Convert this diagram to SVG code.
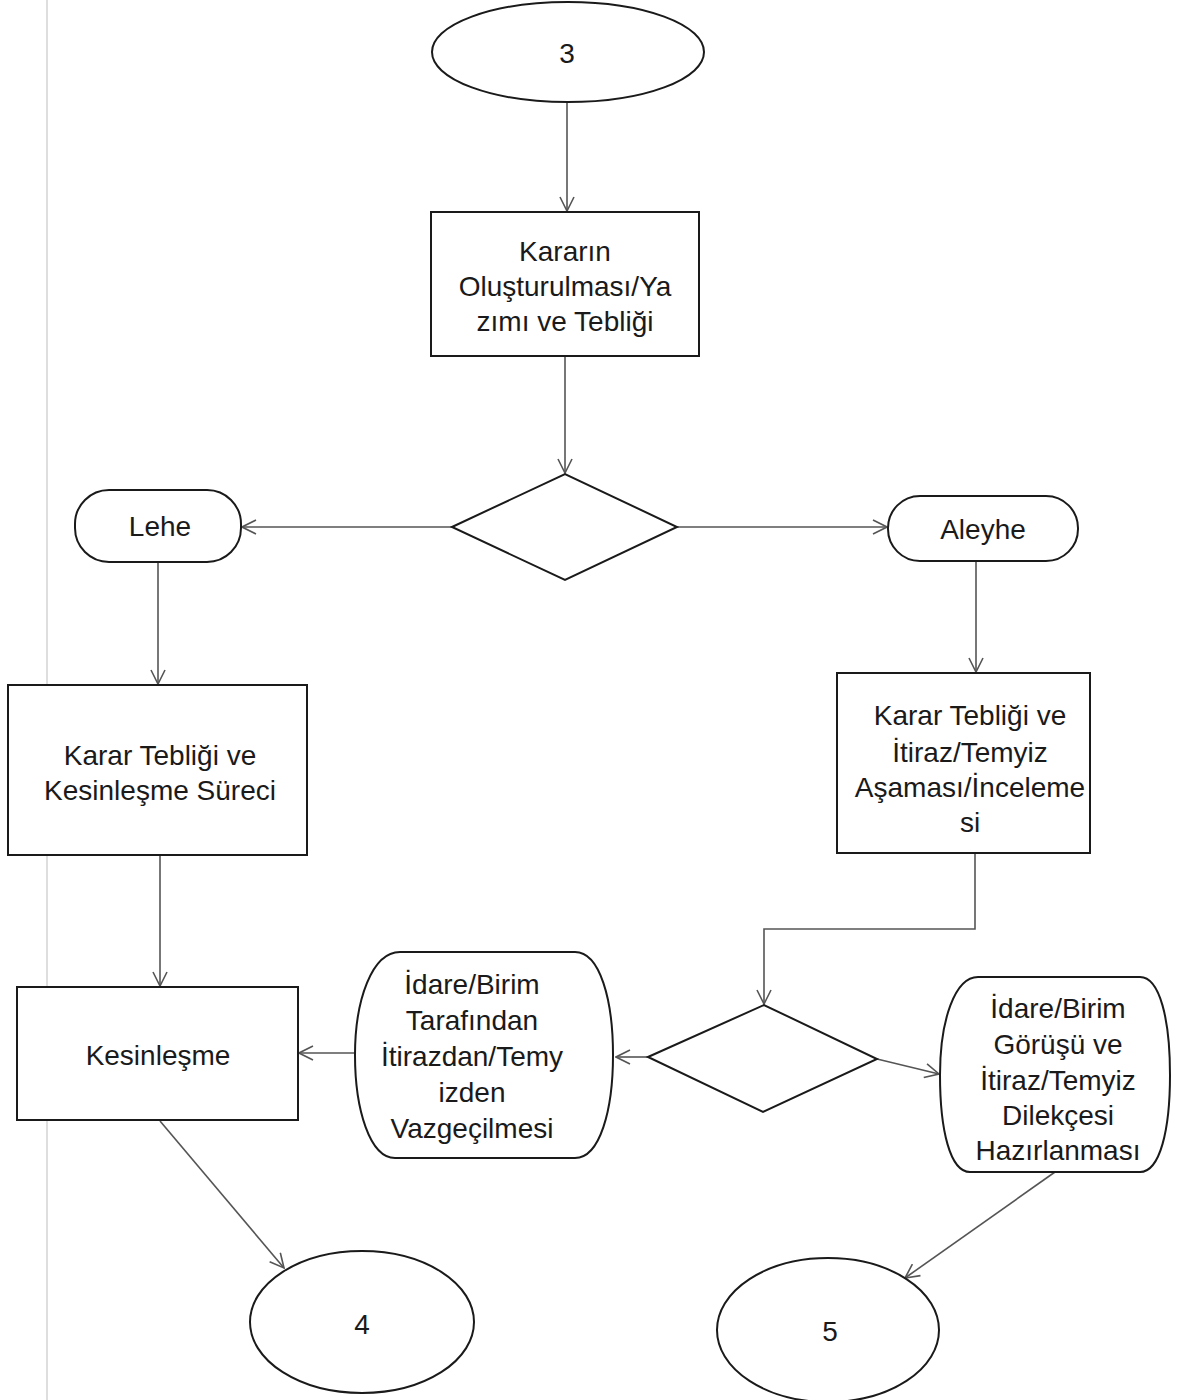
<svg xmlns="http://www.w3.org/2000/svg" width="1180" height="1400" viewBox="0 0 1180 1400">
<defs>
<style>
.node{fill:#fff;stroke:#1a1a1a;stroke-width:2}
.lbl{font-family:"Liberation Sans","DejaVu Sans",sans-serif;font-size:28px;fill:#1a1a1a;text-anchor:middle}
.con{fill:none;stroke:#555;stroke-width:1.6}
</style>
<marker id="arr" viewBox="0 0 16 16" refX="15" refY="8" markerWidth="16" markerHeight="16" markerUnits="userSpaceOnUse" orient="auto">
<path d="M1,1 L15,8 L1,15" fill="none" stroke="#555" stroke-width="1.6"/>
</marker>
</defs>
<rect width="1180" height="1400" fill="#fff"/>
<line x1="47" y1="0" x2="47" y2="1400" stroke="#c8c8c8" stroke-width="1.2"/>

<g id="connectors">
<path class="con" d="M567,102 V211" marker-end="url(#arr)"/>
<path class="con" d="M565,356 V473" marker-end="url(#arr)"/>
<path class="con" d="M452,527 H242" marker-end="url(#arr)"/>
<path class="con" d="M677,527 H887" marker-end="url(#arr)"/>
<path class="con" d="M158,562 V684" marker-end="url(#arr)"/>
<path class="con" d="M976,561 V672" marker-end="url(#arr)"/>
<path class="con" d="M160,855 V986" marker-end="url(#arr)"/>
<path class="con" d="M975,853 V929 H764 V1004" marker-end="url(#arr)"/>
<path class="con" d="M648,1057 H616" marker-end="url(#arr)"/>
<path class="con" d="M877,1059 L939,1074" marker-end="url(#arr)"/>
<path class="con" d="M355,1053 H299" marker-end="url(#arr)"/>
<path class="con" d="M160,1121 L284,1268" marker-end="url(#arr)"/>
<path class="con" d="M1055,1172 L905,1278" marker-end="url(#arr)"/>
</g>

<g id="n3">
<ellipse class="node" cx="568" cy="52" rx="136" ry="50"/>
<text class="lbl" x="567" y="63">3</text>
</g>

<g id="karar-olusturma">
<rect class="node" x="431" y="212" width="268" height="144"/>
<text class="lbl" x="565" y="261">Kararın</text>
<text class="lbl" x="565" y="296">Oluşturulması/Ya</text>
<text class="lbl" x="565" y="331">zımı ve Tebliği</text>
</g>

<g id="karar-diamond">
<polygon class="node" points="452,527 565,474 677,527 565,580"/>
</g>

<g id="lehe">
<rect class="node" x="75" y="490" width="166" height="72" rx="34" ry="34"/>
<text class="lbl" x="160" y="536">Lehe</text>
</g>

<g id="aleyhe">
<rect class="node" x="888" y="496" width="190" height="65" rx="32" ry="32"/>
<text class="lbl" x="983" y="539">Aleyhe</text>
</g>

<g id="kesinlesme-sureci">
<rect class="node" x="8" y="685" width="299" height="170"/>
<text class="lbl" x="160" y="765">Karar Tebliği ve</text>
<text class="lbl" x="160" y="800">Kesinleşme Süreci</text>
</g>

<g id="itiraz-asamasi">
<rect class="node" x="837" y="673" width="253" height="180"/>
<text class="lbl" x="970" y="725">Karar Tebliği ve</text>
<text class="lbl" x="970" y="762">İtiraz/Temyiz</text>
<text class="lbl" x="970" y="797">Aşaması/İnceleme</text>
<text class="lbl" x="970" y="832">si</text>
</g>

<g id="kesinlesme">
<rect class="node" x="17" y="987" width="281" height="133"/>
<text class="lbl" x="158" y="1065">Kesinleşme</text>
</g>

<g id="itiraz-diamond">
<polygon class="node" points="648,1057 764,1005 877,1059 763,1112"/>
</g>

<g id="vazgecme">
<path class="node" d="M400,952 H575 C600,952 613,1000 613,1055 C613,1110 600,1158 575,1158 H395 C370,1158 355,1110 355,1055 C355,1000 372,952 400,952 Z"/>
<text class="lbl" x="472" y="994">İdare/Birim</text>
<text class="lbl" x="472" y="1030">Tarafından</text>
<text class="lbl" x="472" y="1066">İtirazdan/Temy</text>
<text class="lbl" x="472" y="1102">izden</text>
<text class="lbl" x="472" y="1138">Vazgeçilmesi</text>
</g>

<g id="dilekce">
<path class="node" d="M978,977 H1140 C1160,977 1170,1020 1170,1075 C1170,1130 1160,1172 1140,1172 H970 C950,1172 940,1130 940,1075 C940,1020 955,977 978,977 Z"/>
<text class="lbl" x="1058" y="1018">İdare/Birim</text>
<text class="lbl" x="1058" y="1054">Görüşü ve</text>
<text class="lbl" x="1058" y="1090">İtiraz/Temyiz</text>
<text class="lbl" x="1058" y="1125">Dilekçesi</text>
<text class="lbl" x="1058" y="1160">Hazırlanması</text>
</g>

<g id="n4">
<ellipse class="node" cx="362" cy="1322" rx="112" ry="71"/>
<text class="lbl" x="362" y="1334">4</text>
</g>

<g id="n5">
<ellipse class="node" cx="828" cy="1330" rx="111" ry="72"/>
<text class="lbl" x="830" y="1341">5</text>
</g>
</svg>
